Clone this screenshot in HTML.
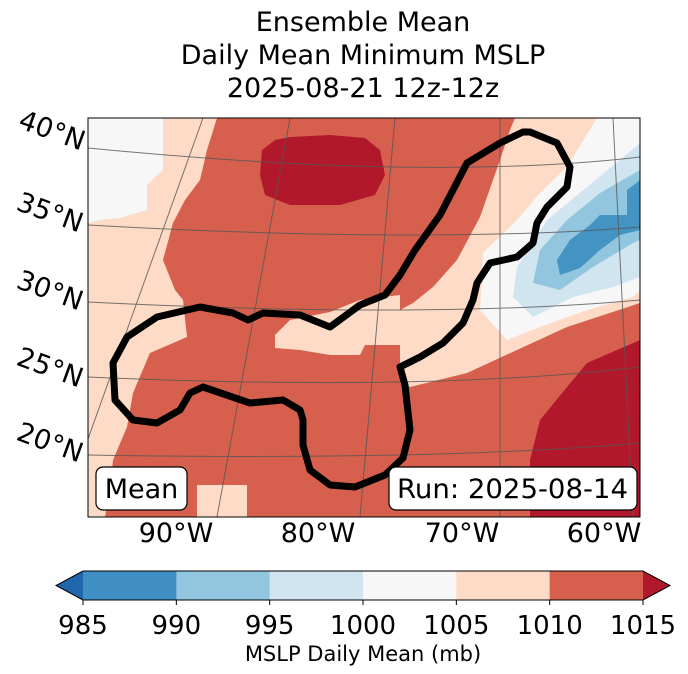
<!DOCTYPE html>
<html><head><meta charset="utf-8"><style>
body{margin:0;background:#fff;}
svg{display:block;font-family:"DejaVu Sans","Liberation Sans",sans-serif;}
</style></head><body>
<svg id="chart" width="688" height="674" viewBox="0 0 688 674">
<g font-size="27" text-anchor="middle" fill="#000">
<text x="363" y="31">Ensemble Mean</text>
<text x="363" y="64">Daily Mean Minimum MSLP</text>
<text x="363" y="97">2025-08-21 12z-12z</text>
</g>
<defs><clipPath id="mapclip"><rect x="88" y="118" width="552" height="399"/></clipPath></defs>
<g clip-path="url(#mapclip)">
<rect x="88" y="118" width="552" height="399" fill="#d6604d"/>
<polygon fill="#fddbc7" points="88,118 217,118 207,150 200,180 185,200 173,223 163,260 175,290 183,300 187,337 150,353 133,393 127,427 113,460 110,487 105,517 88,517"/>
<polygon fill="#f7f7f7" points="88,118 163,118 163,170 147,185 147,210 120,218 100,220 88,223"/>
<polygon fill="#fddbc7" points="197,485 247,485 247,517 197,517"/>
<polygon fill="#b2182b" points="275,140 290,137 330,135 365,138 380,150 385,175 375,195 340,205 290,205 265,195 260,175 262,150"/>
<polygon fill="#fddbc7" points="275,335 290,320 330,312 360,300 400,295 400,345 365,345 360,355 330,355 300,350 275,348"/>
<polygon fill="#fddbc7" points="515,118 640,118 640,303 567,327 517,350 467,373 410,387 400,380 400,310 413,303 433,287 457,260 480,217 500,160 510,130"/>
<polygon fill="#f7f7f7" points="597,118 640,118 640,290 633,297 587,310 540,327 507,340 480,310 483,253 517,220 540,193 567,167"/>
<polygon fill="#d1e5f0" points="640,143 587,187 547,220 517,267 513,297 533,317 573,297 613,287 640,277"/>
<polygon fill="#92c5de" points="640,170 600,193 567,220 540,250 533,283 560,290 593,267 633,243 640,240"/>
<polygon fill="#4393c3" points="640,180 627,190 627,215 600,215 590,225 570,240 557,260 560,275 580,268 600,250 620,235 640,230"/>
<polygon fill="#b2182b" points="640,340 587,363 567,387 540,420 530,460 530,517 640,517"/>
<g id="grat" fill="none" stroke="#555" stroke-width="1" opacity="0.8"></g>
<path fill="none" stroke="#000" stroke-width="7" stroke-linejoin="round" d="M530,132 L557,143 L570,167 L567,187 L547,207 L537,223 L533,243 L517,257 L490,263 L477,283 L473,300 L463,323 L443,343 L420,357 L400,367 L405,385 L410,430 L403,458 L385,475 L355,487 L330,485 L310,470 L303,445 L303,420 L300,410 L283,400 L250,403 L203,387 L190,393 L180,410 L157,423 L133,420 L115,400 L113,363 L127,337 L157,317 L200,307 L233,313 L248,320 L263,313 L300,315 L330,327 L360,305 L385,295 L400,275 L415,250 L440,215 L453,190 L467,163 L500,143 L523,132 Z"/>
</g>
<rect x="88" y="118" width="552" height="399" fill="none" stroke="#000" stroke-width="1"/>
<g font-size="27" text-anchor="middle">
<text transform="translate(49,139) rotate(20)">40°N</text>
<text transform="translate(47,221) rotate(20)">35°N</text>
<text transform="translate(47,299) rotate(20)">30°N</text>
<text transform="translate(47,376) rotate(20)">25°N</text>
<text transform="translate(47,451) rotate(20)">20°N</text>
</g>
<g font-size="27" text-anchor="middle">
<text x="176" y="542">90°W</text><text x="318" y="542">80°W</text><text x="462" y="542">70°W</text><text x="604" y="542">60°W</text>
</g>
<g>
<rect x="96" y="467" width="91" height="43" rx="7" fill="#fff" stroke="#000" stroke-width="1.2"/>
<text x="141.5" y="498" font-size="27" text-anchor="middle">Mean</text>
</g>
<g>
<rect x="389" y="467" width="248" height="43" rx="7" fill="#fff" stroke="#000" stroke-width="1.2"/>
<text x="397" y="498" font-size="27" textLength="231" lengthAdjust="spacingAndGlyphs">Run: 2025-08-14</text>
</g>
<g id="cbar"></g>
<text x="363" y="661" font-size="21" text-anchor="middle">MSLP Daily Mean (mb)</text>
</svg>
<script>
const levels=[985,990,995,1000,1005,1010,1015];
const binColors=["#3f8fc5","#92c5de","#d1e5f0","#f7f7f7","#fddbc7","#d6604d"];
const underColor="#2166ac";
const overColor="#b2182b";
const latLines=[[148,167,157],[225,235,227],[302,310,300],[377,382,367],[455,455,443]];
const lonLines=[[203,60],[290,217],[395,360],[500,500],[613,633]];
const NS="http://www.w3.org/2000/svg";
const grat=document.getElementById('grat');
latLines.forEach(function(l){
  const p=document.createElementNS(NS,'path');
  const cy=2*l[1]-(l[0]+l[2])/2;
  p.setAttribute('d','M88,'+l[0]+' Q430,'+cy+' 640,'+l[2]);
  
  
  grat.appendChild(p);
});
lonLines.forEach(function(l){
  const p=document.createElementNS(NS,'line');
  p.setAttribute('x1',l[0]);p.setAttribute('y1',118);p.setAttribute('x2',l[1]);p.setAttribute('y2',517);
  
  
  grat.appendChild(p);
});
const cb=document.getElementById('cbar');
const x0=83,x1=643,y0=571,h=29;
function cx(v){return x0+(v-levels[0])/(levels[levels.length-1]-levels[0])*(x1-x0);}
binColors.forEach(function(c,i){
  const r=document.createElementNS(NS,'rect');
  r.setAttribute('x',cx(levels[i]));r.setAttribute('y',y0);
  r.setAttribute('width',cx(levels[i+1])-cx(levels[i])+0.5);r.setAttribute('height',h);
  r.setAttribute('fill',c);
  
  
  cb.appendChild(r);
});
const tl=document.createElementNS(NS,'polygon');
tl.setAttribute('points',x0+','+y0+' '+(x0-27)+','+(y0+h/2)+' '+x0+','+(y0+h));
tl.setAttribute('fill',underColor);


cb.appendChild(tl);
const tr=document.createElementNS(NS,'polygon');
tr.setAttribute('points',x1+','+y0+' '+(x1+27)+','+(y0+h/2)+' '+x1+','+(y0+h));
tr.setAttribute('fill',overColor);


cb.appendChild(tr);
const outline=document.createElementNS(NS,'polygon');
outline.setAttribute('points',x0+','+y0+' '+x1+','+y0+' '+(x1+27)+','+(y0+h/2)+' '+x1+','+(y0+h)+' '+x0+','+(y0+h)+' '+(x0-27)+','+(y0+h/2));
outline.setAttribute('fill','none');outline.setAttribute('stroke','#000');outline.setAttribute('stroke-width','1');


cb.appendChild(outline);
levels.forEach(function(v){
  const x=cx(v);
  const t=document.createElementNS(NS,'line');
  t.setAttribute('x1',x);t.setAttribute('x2',x);t.setAttribute('y1',y0+h);t.setAttribute('y2',y0+h+5);
  t.setAttribute('stroke','#000');
  
  
  cb.appendChild(t);
  const tx=document.createElementNS(NS,'text');
  tx.setAttribute('x',x);tx.setAttribute('y',634);tx.setAttribute('font-size','26');tx.setAttribute('text-anchor','middle');
  tx.textContent=v;
  
  
  cb.appendChild(tx);
});
</script>
</body></html>
